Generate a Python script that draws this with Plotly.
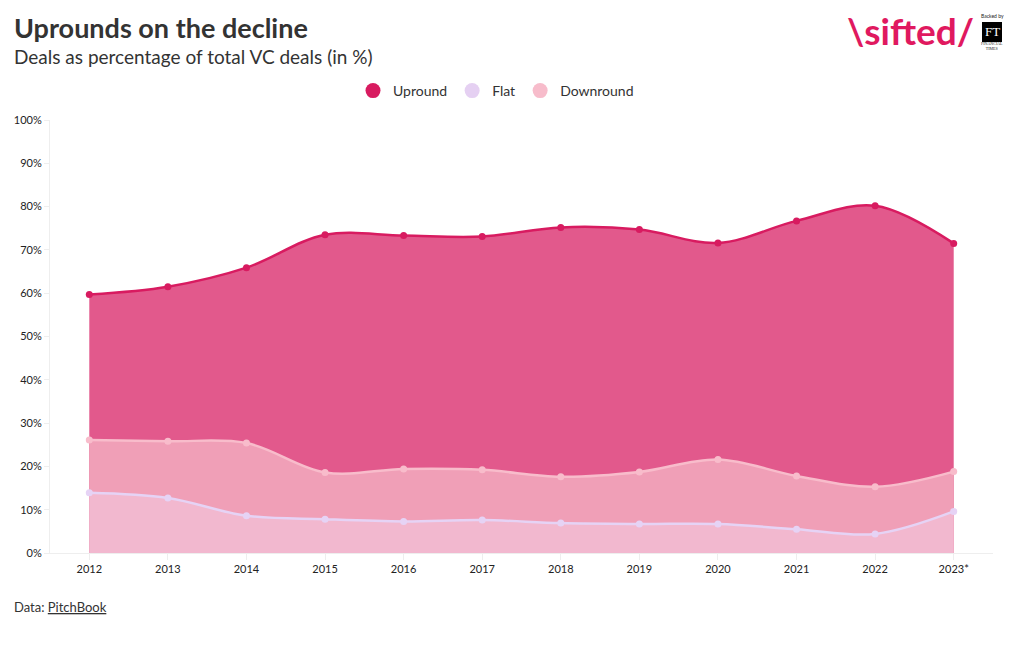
import plotly.graph_objects as go

years = ["2012", "2013", "2014", "2015", "2016", "2017", "2018", "2019", "2020", "2021", "2022", "2023*"]
upround = [59.7, 61.5, 65.9, 73.5, 73.3, 73.1, 75.2, 74.7, 71.6, 76.7, 80.2, 71.5]
downround = [26.1, 25.8, 25.4, 18.6, 19.4, 19.2, 17.6, 18.7, 21.6, 17.8, 15.3, 18.8]
flat = [13.9, 12.7, 8.6, 7.8, 7.3, 7.6, 6.9, 6.7, 6.7, 5.5, 4.4, 9.6]
y_ticks = [0, 10, 20, 30, 40, 50, 60, 70, 80, 90, 100]

FONT = "Source Sans Pro, Lato, Noto Sans, sans-serif"
OFF = 8  # page body margin offset
W, H = 1020, 650
l, r, t, b = 50 - OFF, W - (993 - OFF), 120 - OFF, H - (553 - OFF)
pw, ph = W - l - r, H - t - b


def px(xp):
    return (xp - OFF - l) / pw


def py(yp):
    return 1 - (yp - OFF - t) / ph


fig = go.Figure()
series = [
    ("Upround", upround, "#d81b60", "#e2598c", "#d81b60"),
    ("Downround", downround, "#f8bccb", "#f09fb7", "#f7bccb"),
    ("Flat", flat, "#e6d3f5", "#f2b8cf", "#e5d0f2"),
]
for name, vals, lc, fc, _ in series:
    fig.add_trace(go.Scatter(
        x=years, y=vals, name=name, mode="lines+markers",
        line=dict(color=lc, width=2.5, shape="spline"),
        marker=dict(size=7, color=lc),
        fill="tozeroy", fillcolor=fc, showlegend=False, hoverinfo="x+y+name",
    ))
# legend entries (circles) in the order Upround, Flat, Downround
for name in ["Upround", "Flat", "Downround"]:
    col = {s[0]: s[4] for s in series}[name]
    fig.add_trace(go.Scatter(
        x=[None], y=[None], name=name, mode="markers",
        marker=dict(size=15, color=col), showlegend=True,
    ))

fig.update_layout(
    width=W, height=H,
    paper_bgcolor="white", plot_bgcolor="white",
    margin=dict(l=l, r=r, t=t, b=b, autoexpand=False),
    font=dict(family=FONT, color="#333333"),
    showlegend=True,
    legend=dict(orientation="h", x=px(496), xanchor="center", y=py(91), yanchor="middle",
                font=dict(size=14, color="#333333", family=FONT),
                traceorder="normal", itemwidth=30, tracegroupgap=0),
    xaxis=dict(
        type="category", range=[-0.5, 11.5], automargin=False,
        showgrid=False, showline=True, linecolor="#eeeeee", linewidth=1,
        ticks="outside", tickcolor="#eeeeee", ticklen=6,
        tickfont=dict(size=11, color="#222222", family=FONT),
    ),
    yaxis=dict(
        range=[0, 100], tickvals=y_ticks, ticktext=[f"{v}%" for v in y_ticks],
        automargin=False,
        showgrid=False, showline=True, linecolor="#eeeeee", linewidth=1,
        ticks="outside", tickcolor="#eeeeee", ticklen=5, zeroline=False,
        tickfont=dict(size=11, color="#222222", family=FONT),
    ),
)

ann = [
    dict(text="<b>Uprounds on the decline</b>", x=12, y=28, size=27, color="#333333", family=FONT, anchor="left"),
    dict(text="Deals as percentage of total VC deals (in %)", x=12, y=56, size=19, color="#333333", family=FONT, anchor="left"),
    dict(text="Data: <u>PitchBook</u>", x=12, y=607, size=13, color="#333333", family=FONT, anchor="left"),
    dict(text="<b>\\sifted/</b>", x=910, y=30, size=37, color="#e0195f", family=FONT, anchor="center"),
    dict(text="Backed by", x=992, y=16, size=5, color="#222222", family=FONT, anchor="center"),
    dict(text="FT", x=992, y=32, size=13, color="white", family="Liberation Serif", anchor="center"),
    dict(text="FINANCIAL<br>TIMES", x=992, y=46, size=4, color="#222222", family="Liberation Serif", anchor="center"),
]
fig.layout.annotations = [
    dict(text=a["text"], x=px(a["x"]), y=py(a["y"]), xref="paper", yref="paper",
         showarrow=False, xanchor=a["anchor"], yanchor="middle",
         font=dict(size=a["size"], color=a["color"], family=a["family"]))
    for a in ann
]
fig.layout.shapes = [dict(type="rect", xref="paper", yref="paper",
                          x0=px(982), x1=px(1002), y0=py(42), y1=py(22),
                          fillcolor="black", line=dict(width=0), layer="below")]

fig.write_html("out.html")
